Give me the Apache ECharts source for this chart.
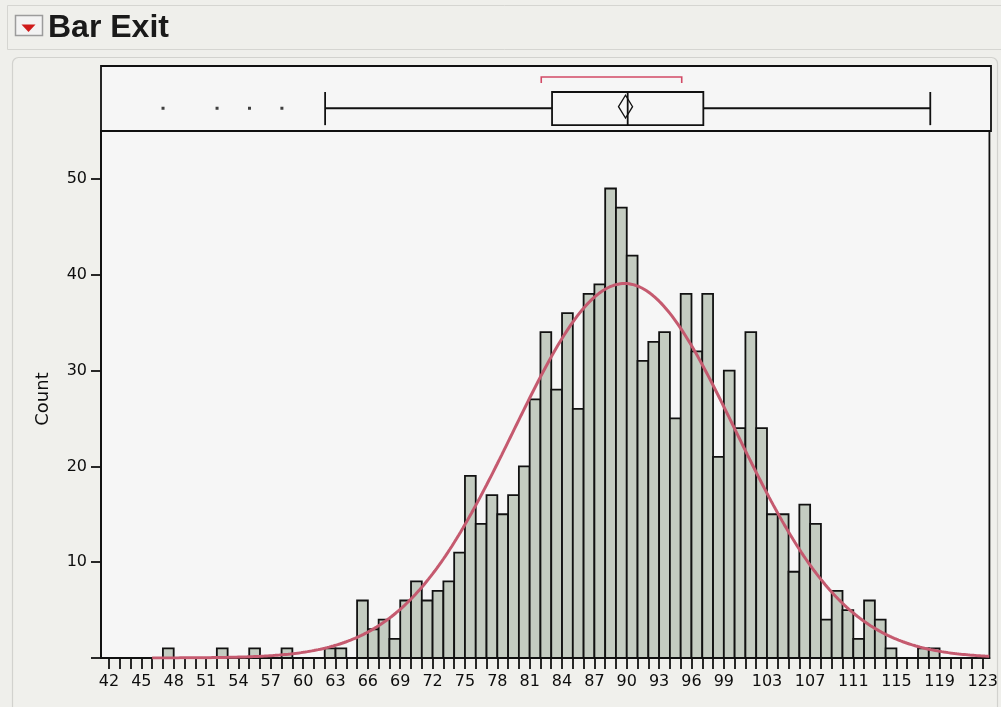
<!DOCTYPE html>
<html><head><meta charset="utf-8">
<script src="https://cdn.jsdelivr.net/npm/echarts@6/dist/echarts.min.js"></script>
<style>html,body{margin:0;padding:0;background:#efefeb;}#c{width:1001px;height:707px;}</style>
</head><body><div id="c"></div>
<script>
// ---- data ----
const chartTitle = 'Bar Exit';
const yAxisTitle = 'Count';
const binWidth = 1;
const binStart = [47, 52, 55, 58, 62, 63, 65, 66, 67, 68, 69, 70, 71, 72, 73, 74, 75, 76, 77, 78, 79, 80,
  81, 82, 83, 84, 85, 86, 87, 88, 89, 90, 91, 92, 93, 94, 95, 96, 97, 98, 99, 100,
  101, 102, 103, 104, 105, 106, 107, 108, 109, 110, 111, 112, 113, 114, 117, 118];
const binCount = [1, 1, 1, 1, 1, 1, 6, 3, 4, 2, 6, 8, 6, 7, 8, 11, 19, 14, 17, 15, 17, 20,
  27, 34, 28, 36, 26, 38, 39, 49, 47, 42, 31, 33, 34, 25, 38, 32, 38, 21, 30, 24,
  34, 24, 15, 15, 9, 16, 14, 4, 7, 5, 2, 6, 4, 1, 1, 1];
const xTickLabels = [42, 45, 48, 51, 54, 57, 60, 63, 66, 69, 72, 75, 78, 81, 84, 87, 90, 93, 96, 99, 103, 107, 111, 115, 119, 123];
const yTickLabels = [10, 20, 30, 40, 50];
// box plot summary
const whiskerLow = 62, quartile1 = 83, medianValue = 90, quartile3 = 97, whiskerHigh = 118;
const outlierValues = [47, 52, 55, 58];
const meanValue = 89.8;
const meanCI = [89.15, 90.45];
const shortestHalf = [82, 95];
// fitted normal curve parameters
const fitMean = 89.8, fitSD = 10.3, fitN = 1009;
const fitRange = [46, 123.62];

// ---- chart ----
const xMin = 41.26, xMax = 123.62;
const xTickValues = [];
for (let v = 42; v <= 123; v++) xTickValues.push(v);

const curve = [];
for (let x = fitRange[0]; x <= fitRange[1] + 1e-9; x += 0.2) {
  const z = (x - fitMean) / fitSD;
  curve.push([x, fitN * binWidth * Math.exp(-0.5 * z * z) / (fitSD * Math.sqrt(2 * Math.PI))]);
}

const labelFont = { fontFamily: 'DejaVu Sans', fontSize: 16, color: '#0d0d0d' };
const chart = echarts.init(document.getElementById('c'), null, { renderer: 'canvas' });

const boxData = [[whiskerLow, quartile1, medianValue, quartile3, whiskerHigh, meanValue, meanCI[0], meanCI[1], shortestHalf[0], shortestHalf[1]]];

chart.setOption({
  backgroundColor: '#efefeb',
  animation: false,
  graphic: [
    { type: 'rect', shape: { x: 7.5, y: 5.5, width: 1010, height: 44 }, style: { fill: '#efefeb', stroke: '#d5d5d1', lineWidth: 1 }, z: -10 },
    { type: 'rect', shape: { x: 15.5, y: 15.5, width: 27, height: 20 }, style: { fill: '#f3f3f3', stroke: '#9c9c9c', lineWidth: 1.5 } },
    { type: 'polygon', shape: { points: [[21.5, 24.5], [35.5, 24.5], [28.5, 32]] }, style: { fill: '#cf1b1b' } },
    { type: 'text', x: 48, y: 28, style: { text: chartTitle, font: 'bold 32px "Liberation Sans"', fill: '#1a1a1a', verticalAlign: 'middle', align: 'left' } },
    { type: 'rect', shape: { x: 12.5, y: 57.5, width: 985, height: 670, r: 6 }, style: { fill: '#f0f0ec', stroke: '#d2d2ce', lineWidth: 1.2 }, z: -10 },
    { type: 'text', x: 43, y: 399, rotation: Math.PI / 2, style: { text: yAxisTitle, font: '18px "DejaVu Sans"', fill: '#0d0d0d', align: 'center', verticalAlign: 'middle' } }
  ],
  grid: [
    { left: 101, top: 131, width: 890, height: 527, show: true, backgroundColor: '#f6f6f6', borderColor: '#111', borderWidth: 1.8 },
    { left: 101, top: 66, width: 890, height: 65, show: true, backgroundColor: '#f6f6f6', borderColor: '#111', borderWidth: 1.8 }
  ],
  xAxis: [
    { type: 'value', gridIndex: 0, min: xMin, max: xMax,
      axisLine: { show: true, onZero: false, lineStyle: { color: '#111', width: 1.8 } },
      axisTick: { show: true, length: 11, customValues: xTickValues, lineStyle: { color: '#111', width: 1.8 } },
      axisLabel: Object.assign({ customValues: xTickLabels, margin: 16, hideOverlap: false }, labelFont),
      splitLine: { show: false } },
    { type: 'value', gridIndex: 1, min: xMin, max: xMax, show: false }
  ],
  yAxis: [
    { type: 'value', gridIndex: 0, min: 0, max: 55,
      axisLine: { show: true, lineStyle: { color: '#111', width: 1.8 } },
      axisTick: { show: true, length: 10, customValues: [0, 10, 20, 30, 40, 50], lineStyle: { color: '#111', width: 1.8 } },
      axisLabel: Object.assign({ customValues: yTickLabels, margin: 14 }, labelFont),
      splitLine: { show: false } },
    { type: 'value', gridIndex: 1, min: 0, max: 1, show: false }
  ],
  series: [
    {
      type: 'custom', xAxisIndex: 0, yAxisIndex: 0,
      data: binStart.map((s, i) => [s, s + binWidth, binCount[i]]),
      encode: { x: [0, 1], y: 2 },
      renderItem: function (params, api) {
        const p0 = api.coord([api.value(0), 0]);
        const p1 = api.coord([api.value(1), api.value(2)]);
        return { type: 'rect', shape: { x: p0[0], y: p1[1], width: p1[0] - p0[0], height: p0[1] - p1[1] },
          style: { fill: '#c4ccc1', stroke: '#111', lineWidth: 1.8 } };
      },
      z: 2
    },
    {
      type: 'line', xAxisIndex: 0, yAxisIndex: 0, data: curve, showSymbol: false, smooth: false,
      lineStyle: { color: '#c55a6f', width: 3 }, z: 3
    },
    {
      type: 'custom', xAxisIndex: 1, yAxisIndex: 1, data: boxData,
      encode: { x: [0, 4] },
      renderItem: function (params, api) {
        const X = (v) => api.coord([v, 0])[0];
        const Y = (f) => api.coord([xMin, f])[1];
        const lo = X(api.value(0)), q1 = X(api.value(1)), med = X(api.value(2)), q3 = X(api.value(3)), hi = X(api.value(4));
        const mn = X(api.value(5)), c0 = X(api.value(6)), c1 = X(api.value(7)), s0 = X(api.value(8)), s1 = X(api.value(9));
        const yTop = Y(0.6), yBot = Y(0.09), yMid = Y(0.35);
        const ls = { stroke: '#111', lineWidth: 1.8, fill: null };
        const dTop = Y(0.55), dBot = Y(0.2), dMid = (dTop + dBot) / 2;
        return { type: 'group', children: [
          { type: 'line', shape: { x1: lo, y1: yMid, x2: q1, y2: yMid }, style: ls },
          { type: 'line', shape: { x1: q3, y1: yMid, x2: hi, y2: yMid }, style: ls },
          { type: 'line', shape: { x1: lo, y1: yTop, x2: lo, y2: yBot }, style: ls },
          { type: 'line', shape: { x1: hi, y1: yTop, x2: hi, y2: yBot }, style: ls },
          { type: 'rect', shape: { x: q1, y: yTop, width: q3 - q1, height: yBot - yTop }, style: ls },
          { type: 'line', shape: { x1: med, y1: yTop, x2: med, y2: yBot }, style: ls },
          { type: 'polygon', shape: { points: [[c0, dMid], [mn, dTop], [c1, dMid], [mn, dBot]] }, style: { stroke: '#111', lineWidth: 1.3, fill: null } },
          { type: 'polyline', shape: { points: [[s0, Y(0.74)], [s0, Y(0.83)], [s1, Y(0.83)], [s1, Y(0.74)]] }, style: { stroke: '#d24a66', lineWidth: 1.6, fill: null } }
        ] };
      },
      z: 3
    },
    {
      type: 'scatter', xAxisIndex: 1, yAxisIndex: 1,
      data: outlierValues.map(v => [v, 0.35]),
      symbol: 'rect', symbolSize: 3, itemStyle: { color: '#111' }, z: 4
    }
  ]
});
</script></body></html>
